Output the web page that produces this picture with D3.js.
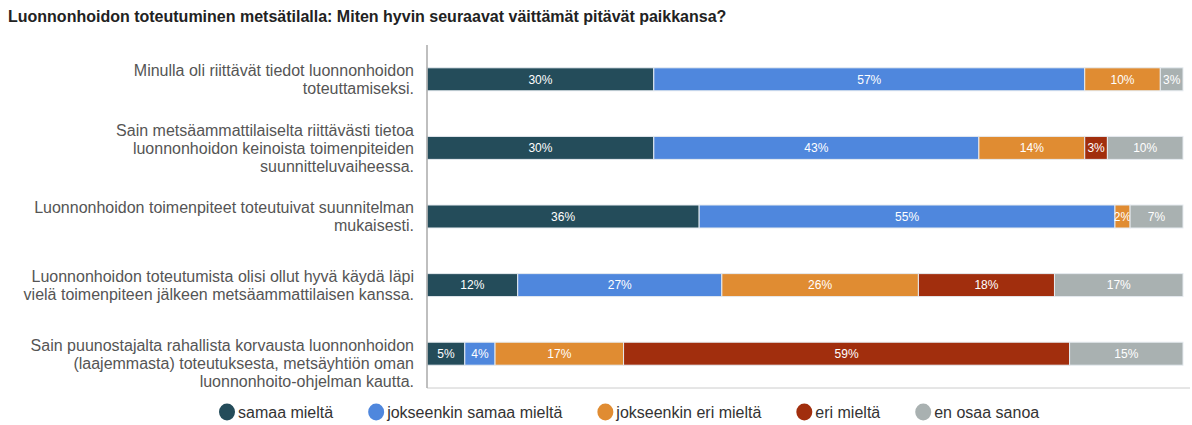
<!DOCTYPE html>
<html><head><meta charset="utf-8">
<script src="https://cdn.jsdelivr.net/npm/d3@7"></script>
<style>
html,body{margin:0;padding:0;background:#fff;}
svg{display:block;font-family:"Liberation Sans",Arial,sans-serif;}
</style></head>
<body>
<svg id="chart" width="1192" height="425"></svg>
<script>
const title = "Luonnonhoidon toteutuminen metsätilalla: Miten hyvin seuraavat väittämät pitävät paikkansa?";
const categories = [
  ["Minulla oli riittävät tiedot luonnonhoidon", "toteuttamiseksi."],
  ["Sain metsäammattilaiselta riittävästi tietoa", "luonnonhoidon keinoista toimenpiteiden", "suunnitteluvaiheessa."],
  ["Luonnonhoidon toimenpiteet toteutuivat suunnitelman", "mukaisesti."],
  ["Luonnonhoidon toteutumista olisi ollut hyvä käydä läpi", "vielä toimenpiteen jälkeen metsäammattilaisen kanssa."],
  ["Sain puunostajalta rahallista korvausta luonnonhoidon", "(laajemmasta) toteutuksesta, metsäyhtiön oman", "luonnonhoito-ohjelman kautta."]
];
const seriesNames = ["samaa mieltä", "jokseenkin samaa mieltä", "jokseenkin eri mieltä", "eri mieltä", "en osaa sanoa"];
const seriesColors = ["#244c5a", "#4f87dd", "#e08c32", "#a12e0d", "#a9b1b1"];
const samaa = [30, 30, 36, 12, 5];
const jokseenkinSamaa = [57, 43, 55, 27, 4];
const jokseenkinEri = [10, 14, 2, 26, 17];
const eri = [0, 3, 0, 18, 59];
const enOsaa = [3, 10, 7, 17, 15];
const seriesValues = [samaa, jokseenkinSamaa, jokseenkinEri, eri, enOsaa];

const svg = d3.select("#chart");
const plot = {left: 427, right: 1183, top: 45, bottom: 388};

const x = d3.scaleLinear().domain([0, 100]).range([plot.left, plot.right]);
const y = d3.scaleBand().domain(d3.range(categories.length)).range([plot.top, plot.bottom]).paddingInner(0.665).paddingOuter(0.3325);

// title
svg.append("text").attr("x", 8).attr("y", 22)
  .attr("font-size", 16).attr("font-weight", "bold").attr("fill", "#222")
  .text(title);

// stacked data
const rows = categories.map((c, i) => {
  const obj = {i};
  seriesNames.forEach((s, k) => obj[s] = seriesValues[k][i]);
  return obj;
});
const stack = d3.stack().keys(seriesNames)(rows);

const g = svg.append("g");
stack.forEach((layer, k) => {
  layer.forEach((d, i) => {
    const v = d[1] - d[0];
    if (v <= 0) return;
    g.append("rect")
      .attr("x", x(d[0])).attr("y", y(i))
      .attr("width", x(d[1]) - x(d[0])).attr("height", y.bandwidth())
      .attr("fill", seriesColors[k]).attr("stroke", "#e6ebf0").attr("stroke-width", 1);
    g.append("text")
      .attr("x", (x(d[0]) + x(d[1])) / 2).attr("y", y(i) + y.bandwidth() / 2)
      .attr("dy", "0.36em").attr("text-anchor", "middle")
      .attr("font-size", 12).attr("fill", "#fff")
      .text(v + "%");
  });
});

// axes lines
svg.append("line").attr("x1", plot.left).attr("x2", 1190).attr("y1", plot.bottom).attr("y2", plot.bottom)
  .attr("stroke", "#cccccc").attr("stroke-width", 1);
svg.append("line").attr("x1", plot.left).attr("x2", plot.left).attr("y1", plot.top).attr("y2", plot.bottom)
  .attr("stroke", "#aaaaaa").attr("stroke-width", 1.5);

// category labels
const lineH = 18;
const lastShift = 10;
categories.forEach((lines, i) => {
  const cy = y(i) + y.bandwidth() / 2 + (i === categories.length - 1 ? lastShift : 0);
  const t = svg.append("text").attr("text-anchor", "end").attr("font-size", 16).attr("fill", "#555");
  lines.forEach((ln, j) => {
    t.append("tspan").attr("x", 414)
      .attr("y", cy + (j - (lines.length - 1) / 2) * lineH)
      .attr("dy", "0.36em").text(ln);
  });
});

// legend
const leg = svg.append("g");
let lx = 219;
const ly = 412;
seriesNames.forEach((s, k) => {
  leg.append("ellipse").attr("cx", lx + 8).attr("cy", ly).attr("rx", 8).attr("ry", 8.5).attr("fill", seriesColors[k]);
  const t = leg.append("text").attr("x", lx + 19).attr("y", ly).attr("dy", "0.36em")
    .attr("font-size", 16).attr("fill", "#333").text(s);
  lx = lx + 19 + t.node().getComputedTextLength() + 35;
});
</script>
</body></html>
